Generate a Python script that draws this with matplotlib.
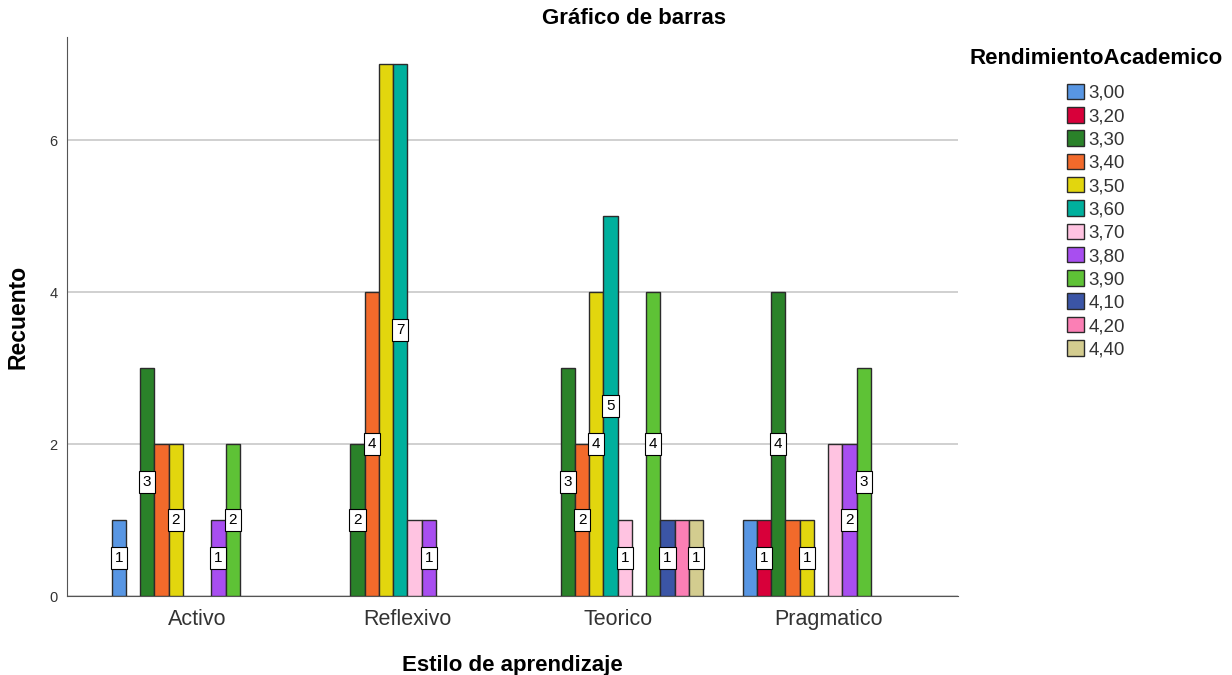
import matplotlib
matplotlib.use("Agg")
import matplotlib.pyplot as plt
import numpy as np
from matplotlib.patches import Patch

plt.rcParams['font.family'] = ['Liberation Sans', 'DejaVu Sans']

categories = ["Activo", "Reflexivo", "Teorico", "Pragmatico"]
series_names = ["3,00", "3,20", "3,30", "3,40", "3,50", "3,60",
                "3,70", "3,80", "3,90", "4,10", "4,20", "4,40"]
colors = ["#5896e3", "#d8003a", "#2a8229", "#f26a2b", "#e2d60e", "#00b09d",
          "#ffc3e1", "#a84ef0", "#5ec236", "#3b55a6", "#fb7fb5", "#d3cc8f"]

# counts per series (rows) across categories (columns)
counts = {
    "3,00": [1, 0, 0, 1],
    "3,20": [0, 0, 0, 1],
    "3,30": [3, 2, 3, 4],
    "3,40": [2, 4, 2, 1],
    "3,50": [2, 7, 4, 1],
    "3,60": [0, 7, 5, 0],
    "3,70": [0, 1, 1, 2],
    "3,80": [1, 1, 0, 2],
    "3,90": [2, 0, 4, 3],
    "4,10": [0, 0, 1, 0],
    "4,20": [0, 0, 1, 0],
    "4,40": [0, 0, 1, 0],
}
# which bars show a value label (1 = shown)
shown_labels = {
    "3,00": [1, 0, 0, 0],
    "3,20": [0, 0, 0, 1],
    "3,30": [1, 1, 1, 1],
    "3,40": [0, 1, 1, 0],
    "3,50": [1, 0, 1, 1],
    "3,60": [0, 1, 1, 0],
    "3,70": [0, 0, 1, 0],
    "3,80": [1, 1, 0, 1],
    "3,90": [1, 0, 1, 1],
    "4,10": [0, 0, 1, 0],
    "4,20": [0, 0, 0, 0],
    "4,40": [0, 0, 1, 0],
}
yticks = [0, 2, 4, 6]

fig = plt.figure(figsize=(12.32, 6.75), dpi=100)
ax = fig.add_axes([0.0544, 0.117, 0.7232, 0.828])

n = len(series_names)
group_w = 0.813
bw = group_w / n
x = np.arange(len(categories))

for i, name in enumerate(series_names):
    vals = np.array(counts[name], dtype=float)
    offs = x - group_w / 2 + bw * (i + 0.5)
    mask = vals > 0
    ax.bar(offs[mask], vals[mask], width=bw, color=colors[i],
           edgecolor="#2b2b2b", linewidth=1.0, zorder=3)
    for xo, v, s in zip(offs, vals, shown_labels[name]):
        if v > 0 and s:
            ax.text(xo, v / 2, f"{int(v)}", ha="center", va="center",
                    fontsize=11, color="black", zorder=5,
                    bbox=dict(boxstyle="square,pad=0.25", fc="white",
                              ec="black", lw=0.8))

ax.set_xlim(-0.618, 3.618)
ax.set_ylim(0, 7.36)
ax.set_yticks(yticks)
ax.set_yticklabels([str(t) for t in yticks], fontsize=10.5, color="#333333")
ax.set_xticks(x)
ax.set_xticklabels(categories, fontsize=15.5, color="#333333")
ax.tick_params(axis="both", length=0)
ax.tick_params(axis="x", pad=9)
ax.tick_params(axis="y", pad=7)
ax.yaxis.grid(True, color="#c8c8c8", linewidth=1.2, zorder=0)
ax.set_axisbelow(True)
for s in ["top", "right"]:
    ax.spines[s].set_visible(False)
ax.spines["left"].set_color("#555555")
ax.spines["bottom"].set_color("#555555")

ax.set_ylabel("Recuento", fontsize=16.5, fontweight="bold", labelpad=14)
ax.set_xlabel("Estilo de aprendizaje", fontsize=16, fontweight="bold", labelpad=18)
fig.text(634 / 1232, 1 - 18 / 675, "Gráfico de barras", ha="center", va="center",
         fontsize=16, fontweight="bold")

handles = [Patch(facecolor=c, edgecolor="#2b2b2b", linewidth=1.0) for c in colors]
leg = fig.legend(handles, series_names, loc="upper left",
                 bbox_to_anchor=(0.8586, 0.890), frameon=False,
                 fontsize=13.5, handlelength=0.9, handleheight=0.9,
                 handletextpad=0.25, labelspacing=0.27, borderpad=0)
for t in leg.get_texts():
    t.set_color("#333333")
fig.text(1096 / 1232, 1 - 58 / 675, "RendimientoAcademico", ha="center", va="center",
         fontsize=16, fontweight="bold")

fig.savefig("out.png", dpi=100)
